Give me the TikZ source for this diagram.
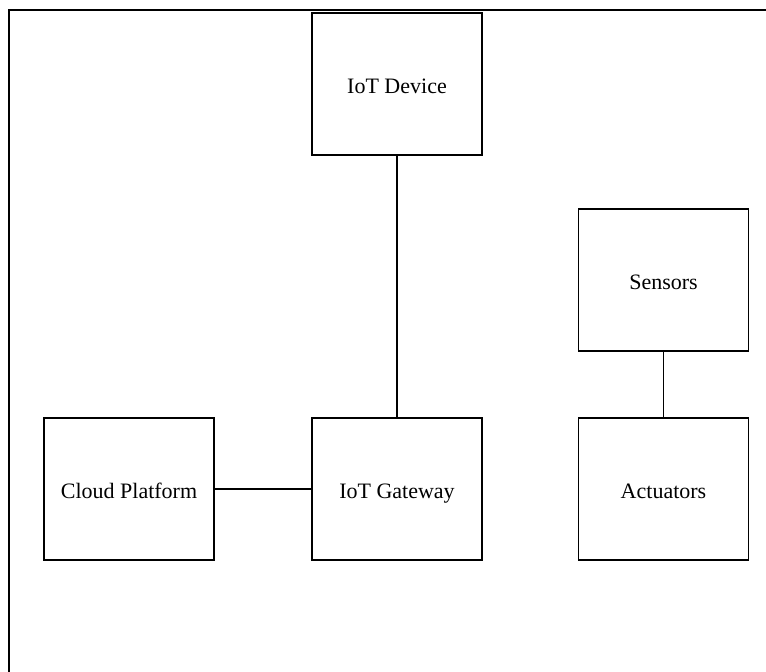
\documentclass[tikz,border=0pt]{standalone}
\usepackage{fontspec}
\setmainfont{Liberation Serif}
\begin{document}
\begin{tikzpicture}[x=1pt,y=-1pt,
  block/.style={draw, line width=1.2pt, minimum width=170pt, minimum height=142pt,
    inner sep=0pt, text height=18.5pt, text depth=0pt,
    font=\fontsize{22}{26}\selectfont},
  link/.style={line width=1.5pt}]
\useasboundingbox (0,0) rectangle (766,672);
% outer frame: top and left edges only
\draw[line width=2.5pt] (766,10) -- (9,10) -- (9,672);
\node[block] (dev)   at (397,84)   {IoT Device};
\node[block] (gw)    at (397,489)  {IoT Gateway};
\node[block] (cloud) at (129,489)  {Cloud Platform};
\node[block] (sens)  at (663.5,280){Sensors};
\node[block] (act)   at (663.5,489){Actuators};
\draw[link] (dev) -- (gw);
\draw[link] (cloud) -- (gw);
\draw[link] (sens) -- (act);
\end{tikzpicture}
\end{document}
